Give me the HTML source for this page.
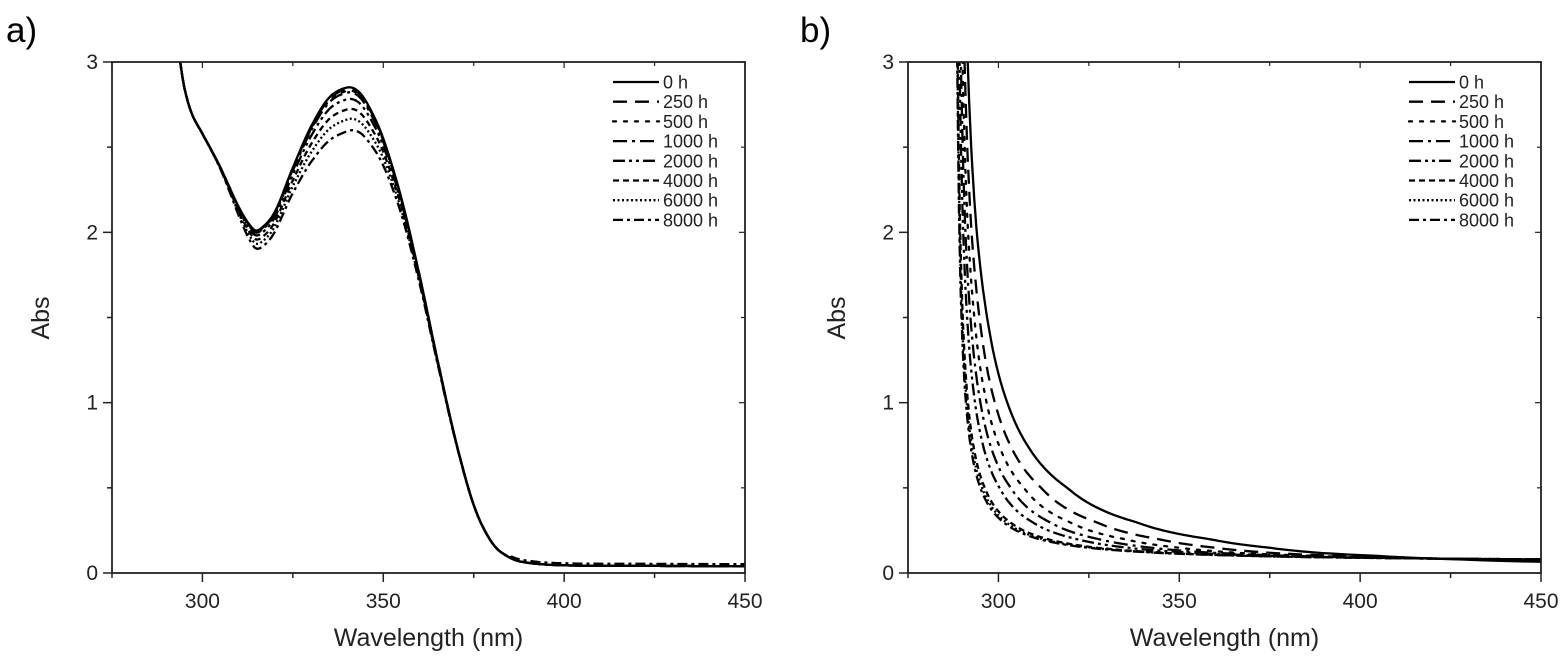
<!DOCTYPE html>
<html><head><meta charset="utf-8"><style>
html,body{margin:0;padding:0;background:#fff;}
svg{display:block;font-family:"Liberation Sans",Arial,sans-serif;}
</style></head><body>
<svg id="s" width="1566" height="664" viewBox="0 0 1566 664" xmlns="http://www.w3.org/2000/svg">
<defs>
<clipPath id="ca"><rect x="112" y="62" width="633" height="511"/></clipPath>
<clipPath id="cb"><rect x="908" y="62" width="633" height="511"/></clipPath>
</defs>
<text x="6" y="42" font-size="35" font-family="'Liberation Sans',sans-serif">a)</text>
<text x="800" y="42" font-size="35" font-family="'Liberation Sans',sans-serif">b)</text>
<g id="ga"></g><g id="gb"></g>
</svg>
<script>
var NS="http://www.w3.org/2000/svg";
function el(p,t,a,txt){var e=document.createElementNS(NS,t);for(var k in a)e.setAttribute(k,a[k]);if(txt!==undefined)e.textContent=txt;p.appendChild(e);return e;}
var dashes=["","14,8","3,8","14,5,3,5","12,4,3,4,3,4","6,4","2,2.5","10,4,3,4"];
var labels=["0 h","250 h","500 h","1000 h","2000 h","4000 h","6000 h","8000 h"];
function X(L,l){return L+(l-275)*633/175;}
function Y(a){return 573-a*511/3;}
function panel(g,L,clip,paths){
  var R=L+633,T=62,B=573;
  var cg=el(g,"g",{"clip-path":"url(#"+clip+")"});
  paths.forEach(function(d,i){
    el(cg,"path",{d:d,fill:"none",stroke:"#000","stroke-width":2.3,"stroke-dasharray":dashes[i],"stroke-linecap":i==2?"round":"butt","stroke-linejoin":"round"});
  });
  el(g,"rect",{x:L,y:T,width:633,height:511,fill:"none",stroke:"#222","stroke-width":1.8});
  for(var v=0;v<=3;v+=0.5){var y=Y(v);var maj=(v%1==0);
    el(g,"line",{x1:L-(maj?9:5),x2:L,y1:y,y2:y,stroke:"#222","stroke-width":1.5});
    el(g,"line",{x1:R,x2:R-(maj?6:4),y1:y,y2:y,stroke:"#222","stroke-width":1.2});
    if(maj)el(g,"text",{x:L-14,y:y+7,"font-size":21,"text-anchor":"end",fill:"#222"},String(v));}
  for(var l=275;l<=450;l+=25){var x=X(L,l);var maj=(l%50==0);
    el(g,"line",{x1:x,x2:x,y1:B,y2:B+(maj?9:5),stroke:"#222","stroke-width":1.5});
    el(g,"line",{x1:x,x2:x,y1:T,y2:T+(maj?6:4),stroke:"#222","stroke-width":1.2});
    if(maj)el(g,"text",{x:x,y:B+35,"font-size":21,"text-anchor":"middle",fill:"#222"},String(l));}
  el(g,"text",{x:(L+R)/2,y:646,"font-size":25,"text-anchor":"middle",fill:"#222"},"Wavelength (nm)");
  el(g,"text",{x:0,y:0,"font-size":25,"text-anchor":"middle",fill:"#222",transform:"translate("+(L-63)+",318) rotate(-90)"},"Abs");
  var lx=L+501;
  for(var i=0;i<8;i++){var y=82+i*19.7;
    el(g,"line",{x1:lx,x2:lx+46,y1:y,y2:y,stroke:"#000","stroke-width":2.3,"stroke-dasharray":dashes[i],"stroke-linecap":i==2?"round":"butt"});
    el(g,"text",{x:lx+50,y:y+6.5,"font-size":18,fill:"#222"},labels[i]);}
}
var P=[[290,3.5],[293.5,3.05],[295,2.85],[297,2.7],[300,2.58],[305,2.38],[310,2.15],[314,2.02],[316,2.02],[320,2.12],[325,2.38],[330,2.62],[335,2.79],[340,2.85],[343,2.83],[346,2.74],[350,2.55],[355,2.2],[360,1.75],[365,1.25],[370,0.78],[375,0.4],[380,0.18],[385,0.09],[390,0.06],[400,0.045],[420,0.042],[450,0.04],[460,0.04]];
function base(l){
  for(var i=1;i<P.length-2;i++){if(l<=P[i+1][0]&&l>=P[i][0]){
    var p0=P[i-1],p1=P[i],p2=P[i+1],p3=P[i+2];var t=(l-p1[0])/(p2[0]-p1[0]);
    var m1=(p2[1]-p0[1])/(p2[0]-p0[0])*(p2[0]-p1[0]),m2=(p3[1]-p1[1])/(p3[0]-p1[0])*(p2[0]-p1[0]);
    var t2=t*t,t3=t2*t;return (2*t3-3*t2+1)*p1[1]+(t3-2*t2+t)*m1+(-2*t3+3*t2)*p2[1]+(t3-t2)*m2;}}
  return l<P[1][0]?3.5:0.04;}
var peaks=[2.85,2.84,2.83,2.82,2.78,2.72,2.66,2.59];
var pa=peaks.map(function(pk,i){var d=2.85-pk;var s="";
  for(var l=275;l<=450;l+=0.5){var a=base(l)-d*Math.exp(-Math.pow((l-338)/17,2))-Math.exp(-Math.pow((l-315)/6,2))*d*0.25+(i==7&&l>385?0.012:0);
    if(a>3.3)a=3.3;s+=(s?"L":"M")+X(112,l).toFixed(1)+","+Y(a).toFixed(1);}return s;});
var KT=[[3.4,11.5],[3,11.8],[2.5,12.2],[2,12.7],[1.5,13.6],[1,14.2],[0.75,14.35],[0.5,14.2],[0.3,12.6],[0.2,10.6],[0.15,8.7],[0.1,5.9],[0.08,4.2],[0.065,2.5]];
function k0(A){for(var i=0;i<KT.length-1;i++){if(A<=KT[i][0]&&A>=KT[i+1][0]){var t=(KT[i][0]-A)/(KT[i][0]-KT[i+1][0]);return KT[i][1]*(1-t)+KT[i+1][1]*t;}}return 2.5;}
function lam0(A){return 287.5+k0(A)/(A-0.05);}
function lam8(A){return A>0.0615?287.5+3.3/(A-0.06):600;}
var fr=[1,0.7,0.5,0.35,0.22,0.05,0.02,0];
var levels=[];for(var j=0;j<=100;j++){levels.push(3.4*Math.pow(0.065/3.4,j/100));}
var pbp=fr.map(function(f,i){var s="";var last;
  levels.forEach(function(A){var a8=lam8(A);var lam=a8+(lam0(A)-a8)*f;
    if(lam>460)return;last=[lam,A];s+=(s?"L":"M")+X(908,lam).toFixed(1)+","+Y(A).toFixed(1);});
  if(last&&last[0]<450){s+="L"+X(908,455).toFixed(1)+","+Y(0.062).toFixed(1);}
  return s;});
panel(document.getElementById("ga"),112,"ca",pa);
panel(document.getElementById("gb"),908,"cb",pbp);
</script>
</body></html>
